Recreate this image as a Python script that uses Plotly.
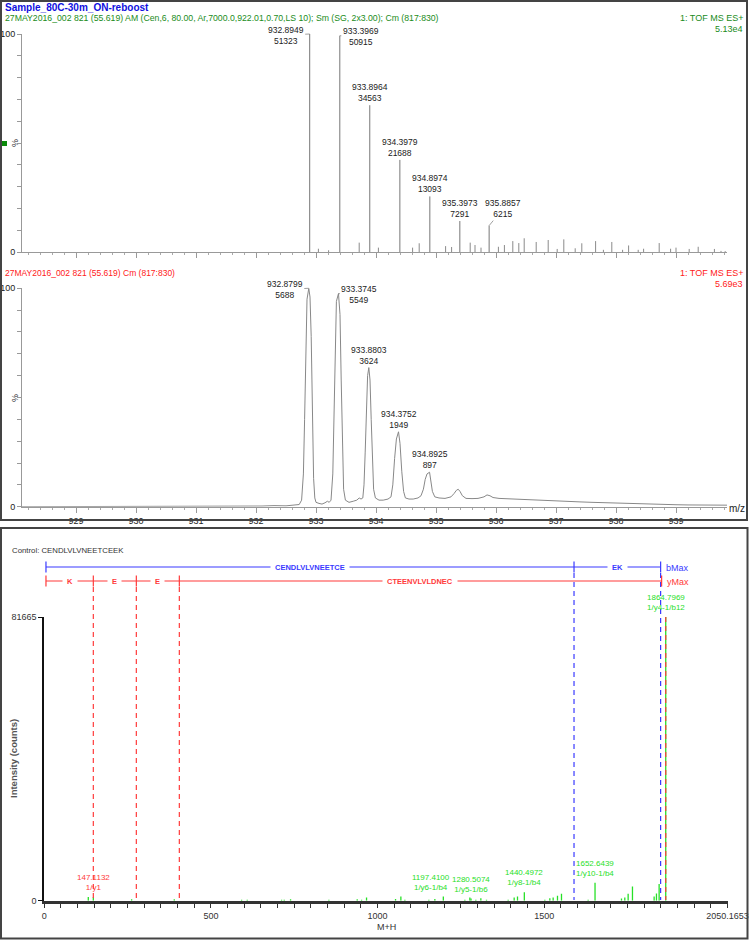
import plotly.graph_objects as go

W, H = 750, 940

# ---- upper spectrum: centroided (Sm/Cm), base peak 5.13e4 ----
top_mz = [932.8949, 933.3969, 933.8964, 934.3979, 934.8974, 935.3973, 935.8857]
top_counts = [51323, 50915, 34563, 21688, 13093, 7291, 6215]
top_max = 51323
small_mz = [933.04, 933.21, 933.72, 934.04, 934.61, 934.72, 935.16, 935.26, 935.57, 935.65,
            935.75, 936.04, 936.14, 936.28, 936.38, 936.47, 936.67, 936.87, 937.02, 937.13,
            937.32, 937.43, 937.66, 937.79, 937.93, 938.11, 938.21, 938.37, 938.46, 938.72,
            938.91, 939.00, 939.22, 939.37, 939.64, 939.75, 939.82]
small_pct = [1.5, 0.8, 4.3, 2.0, 2.0, 4.0, 2.7, 2.3, 4.3, 3.2,
             2.0, 2.4, 3.2, 5.0, 4.1, 6.3, 4.6, 5.5, 1.4, 5.8,
             1.7, 4.0, 5.0, 1.0, 4.6, 1.0, 3.0, 1.0, 1.5, 4.1,
             1.5, 2.0, 1.4, 2.4, 1.4, 0.5, 0.4]

# ---- middle spectrum: continuum (Cm), base peak 5.69e3 ----
prof_mz = [928.10, 932.00, 932.10, 932.30, 932.50, 932.65, 932.72, 932.76, 932.79, 932.81,
           932.83, 932.85, 932.8799, 932.90, 932.92, 932.94, 932.96, 932.98, 933.00, 933.05,
           933.10, 933.15, 933.19, 933.22, 933.25, 933.28, 933.30, 933.32, 933.34, 933.3745,
           933.40, 933.42, 933.44, 933.46, 933.49, 933.55, 933.62, 933.68, 933.72, 933.75,
           933.78, 933.80, 933.82, 933.84, 933.86, 933.8803, 933.90, 933.92, 933.94, 933.96,
           933.99, 934.05, 934.12, 934.20, 934.25, 934.28, 934.31, 934.34, 934.3752, 934.40,
           934.43, 934.46, 934.49, 934.55, 934.62, 934.70, 934.75, 934.79, 934.82, 934.85,
           934.8925, 934.91, 934.94, 934.98, 935.05, 935.15, 935.25, 935.30, 935.34, 935.37,
           935.40, 935.44, 935.50, 935.60, 935.70, 935.80, 935.85, 935.90, 935.95, 936.05,
           936.20, 936.40, 936.60, 936.80, 937.00, 937.20, 937.40, 937.60, 937.80, 938.00,
           938.20, 938.40, 938.60, 938.80, 939.00, 939.20, 939.50, 939.85]
prof_pct = [0, 0, 0.3, 0.5, 0.4, 0.8, 1.0, 3, 15, 40,
            75, 95, 100, 96, 78, 42, 13, 4, 2, 1.5,
            1.2, 1.8, 2.5, 2.0, 3, 15, 40, 75, 94, 97.6,
            88, 58, 24, 8, 3, 2, 2.5, 3, 4, 3.5,
            4, 10, 25, 45, 60, 63.7, 58, 40, 20, 8,
            4, 3, 3, 3.5, 4.5, 10, 22, 31, 34.3, 29,
            16, 7, 4, 3.5, 3.5, 4, 5, 8, 12.5, 15,
            15.8, 12, 7, 4.5, 4, 3.8, 4.5, 6, 7.5, 8,
            7, 5, 3.8, 3.7, 3.8, 4.5, 5.4, 5, 4.2, 3.8,
            3.6, 3.4, 3.0, 2.9, 2.6, 2.4, 2.2, 2.0, 1.8, 1.6,
            1.5, 1.3, 1.1, 1.0, 0.9, 0.8, 0.8, 0.7]
mid_mz = [932.8799, 933.3745, 933.8803, 934.3752, 934.8925]
mid_counts = [5688, 5549, 3624, 1949, 897]
mid_max = 5688

# ---- fragment spectrum (M+H) ----
frag_mz = [132.0, 147.1132, 262.0, 390.0, 592.0, 609.0, 712.0, 720.0, 739.0, 854.0,
           939.0, 952.0, 967.0, 1054.0, 1070.0, 1082.0, 1154.0, 1172.0, 1197.4100, 1262.0,
           1277.0, 1280.5074, 1295.0, 1310.0, 1327.0, 1392.0, 1410.0, 1420.0, 1440.4972, 1502.0,
           1517.0, 1527.0, 1540.0, 1552.0, 1632.0, 1652.6439, 1732.0, 1742.0, 1752.0, 1765.0,
           1830.0, 1837.0, 1845.0, 1864.7969]
frag_counts = [1100, 1000, 400, 400, 300, 300, 300, 300, 400, 300,
               400, 300, 900, 500, 1200, 300, 300, 500, 1200, 300,
               900, 600, 300, 700, 300, 300, 900, 1200, 2400, 300,
               700, 900, 1400, 2000, 300, 5200, 600, 900, 2000, 4100,
               1200, 2100, 4800, 81665]
frag_label_mz = [147.1132, 1197.4100, 1280.5074, 1440.4972, 1652.6439, 1864.7969]
frag_label_ion = ["1/y1", "1/y6-1/b4", "1/y5-1/b6", "1/y8-1/b4", "1/y10-1/b4", "1/y4-1/b12"]
frag_max = 81665
frag_xmax = 2050.1653
b_breaks = [5.0, 1589.6, 1849.5]
b_names = ["CENDLVLVNEETCE", "EK"]
y_breaks = [5.0, 147.1132, 276.1558, 405.1984, 1852.5]
y_names = ["K", "E", "E", "CTEENVLVLDNEC"]
precursor = 1864.7969

SANS = "Liberation Sans, Arial, sans-serif"
NARROW = "Liberation Sans Narrow, Arial Narrow, Liberation Sans, sans-serif"
GREEN_T = "#1a8c1a"
RED_T = "#ff2020"
BLUE_T = "#1010e0"
LAD_BLUE = "#3a3aff"
LAD_RED = "#ff3a3a"
PK_GREEN = "#27e027"

X3_LEFT, X3_RIGHT = 44.3, 727.5


def px(x):
    return x / W


def py(y):
    return 1 - y / H


def sticks(xs, ys):
    sx, sy = [], []
    for a, b in zip(xs, ys):
        sx += [a, a, None]
        sy += [0, b, None]
    return sx, sy


fig = go.Figure()

top_pct = [c / top_max * 100 for c in top_counts]
sx, sy = sticks(small_mz, small_pct)
fig.add_trace(go.Scatter(x=sx, y=sy, mode="lines", line=dict(color="#8a8a8a", width=1),
                         xaxis="x", yaxis="y", hoverinfo="skip"))
sx, sy = sticks(top_mz, top_pct)
fig.add_trace(go.Scatter(x=sx, y=sy, mode="lines", line=dict(color="#777", width=1),
                         xaxis="x", yaxis="y", hoverinfo="skip"))

fig.add_trace(go.Scatter(x=prof_mz, y=prof_pct, mode="lines", line=dict(color="#888", width=1),
                         xaxis="x2", yaxis="y2", hoverinfo="skip"))

sx, sy = sticks(frag_mz, frag_counts)
fig.add_trace(go.Scatter(x=sx, y=sy, mode="lines", line=dict(color=PK_GREEN, width=1.3),
                         xaxis="x3", yaxis="y3", hoverinfo="skip"))

ms_x = dict(range=[928.1, 939.85], showline=True, linecolor="#999", linewidth=1, automargin=False,
            ticks="outside", ticklen=5, tickcolor="#999", tickmode="linear", tick0=929, dtick=1,
            minor=dict(tickmode="linear", tick0=929, dtick=0.2, ticklen=2, tickcolor="#aaa", ticks="outside"),
            showgrid=False, zeroline=False, tickangle=0,
            tickfont=dict(family=SANS, size=9, color="#222"))
ms_y = dict(range=[0, 100], showline=True, linecolor="#999", linewidth=1, automargin=False,
            ticks="outside", ticklen=4, tickcolor="#999",
            tickvals=list(range(0, 101, 10)),
            ticktext=["0"] + [""] * 9 + ["100"],
            showgrid=False, zeroline=False, tickfont=dict(family=SANS, size=9, color="#222"))

frag_ticks = list(range(0, 2050, 50))
fig.update_layout(
    width=W, height=H, autosize=False, margin=dict(l=0, r=0, t=0, b=0, pad=0),
    paper_bgcolor="white", plot_bgcolor="white", showlegend=False,
    xaxis=dict(ms_x, domain=[px(22), px(727)], anchor="y", showticklabels=False),
    yaxis=dict(ms_y, domain=[py(252), py(34)], anchor="x"),
    xaxis2=dict(ms_x, domain=[px(22), px(727)], anchor="y2", showticklabels=True),
    yaxis2=dict(ms_y, domain=[py(506.7), py(288.3)], anchor="x2"),
    xaxis3=dict(domain=[px(X3_LEFT), px(X3_RIGHT)], anchor="y3", range=[0, frag_xmax], automargin=False,
                showline=True, linecolor="#333", linewidth=2.5, ticks="outside", ticklen=5,
                tickcolor="#333", tickvals=frag_ticks + [frag_xmax], tickangle=0,
                ticktext=[str(v) if v % 500 == 0 and v < 2000 else "" for v in frag_ticks] + [f"{frag_xmax:.4f}"],
                showgrid=False, zeroline=False, tickfont=dict(family=NARROW, size=9, color="#333")),
    yaxis3=dict(domain=[py(900.7), py(617)], anchor="x3", range=[0, frag_max], automargin=False,
                showline=True, linecolor="#111", linewidth=2, ticks="outside", ticklen=4,
                tickcolor="#111", tickvals=[0, frag_max], ticktext=["0", str(frag_max)],
                showgrid=False, zeroline=False, tickfont=dict(family=NARROW, size=9, color="#333")),
)

ann = []
shapes = []


def text(x, y, s, color="#222", size=9, family=SANS, anchor="left", **kw):
    ann.append(dict(x=px(x), y=py(y), xref="paper", yref="paper", text=s, showarrow=False,
                    xanchor=anchor, yanchor="middle", font=dict(family=family, size=size, color=color), **kw))


# headers
text(3, 7.5, "<b>Sample_80C-30m_ON-reboost</b>", BLUE_T, 10)
text(3, 18.5, "27MAY2016_002 821 (55.619) AM (Cen,6, 80.00, Ar,7000.0,922.01,0.70,LS 10); Sm (SG, 2x3.00); Cm (817:830)",
     GREEN_T, 8.7)
text(745, 18.5, "1: TOF MS ES+", GREEN_T, 9, anchor="right")
text(745, 29.5, "5.13e4", GREEN_T, 9, anchor="right")
text(3, 273, "27MAY2016_002 821 (55.619) Cm (817:830)", RED_T, 8.5)
text(745, 272.5, "1: TOF MS ES+", RED_T, 9, anchor="right")
text(745, 284, "5.69e3", RED_T, 9, anchor="right")
text(15, 143, "%", "#333", 9, anchor="center", textangle=-90)
text(15, 398, "%", "#333", 9, anchor="center", textangle=-90)
text(737, 508, "m/z", "#222", 10, anchor="center")

# peak labels on the two MS panels (first two hang beside their peak with a short connector)
for xa, ya, mzs, cnts, base in [("x", "y", top_mz, top_counts, top_max),
                                 ("x2", "y2", mid_mz, mid_counts, mid_max)]:
    for i, (m, c) in enumerate(zip(mzs, cnts)):
        a = dict(x=m, y=c / base * 100, xref=xa, yref=ya, text=f"{m:.4f}<br>{c}",
                 showarrow=False, font=dict(family=SANS, size=8.5, color="#222"))
        if i == 0:
            a.update(showarrow=True, ax=-24, ay=1, arrowhead=0, arrowwidth=0.8,
                     arrowcolor="#888", standoff=0)
        elif i == 1:
            a.update(showarrow=True, ax=21, ay=1, arrowhead=0, arrowwidth=0.8,
                     arrowcolor="#888", standoff=0)
        elif xa == "x" and i == 6:
            a.update(showarrow=True, ax=14, ay=-17, arrowhead=0, arrowwidth=0.8,
                     arrowcolor="#888", standoff=0)
        else:
            a.update(xanchor="center", yanchor="bottom", yshift=0)
        ann.append(a)

# fragment labels (nudge a label left when the next one is too close)
px_per_unit = (X3_RIGHT - X3_LEFT) / frag_xmax
cnt_of = dict(zip(frag_mz, frag_counts))
for k, (m, ion) in enumerate(zip(frag_label_mz, frag_label_ion)):
    col = PK_GREEN if "b" in ion else LAD_RED
    shift = 0
    if k + 1 < len(frag_label_mz):
        gap = (frag_label_mz[k + 1] - m) * px_per_unit
        if gap < 40:
            shift = -(40 - gap)
    ann.append(dict(x=m, y=cnt_of[m], xref="x3", yref="y3", text=f"{m:.4f}<br>{ion}",
                    showarrow=False, xanchor="center", yanchor="bottom", yshift=3, xshift=shift,
                    font=dict(family=NARROW, size=8, color=col)))

text(10, 550.5, "Control: CENDLVLVNEETCEEK", "#333", 7.8, NARROW)
text(386, 926.5, "M+H", "#333", 9, NARROW, anchor="center")
text(13, 759, "<b>Intensity (counts)</b>", "#555", 9.5, NARROW, anchor="center", textangle=-90)


# sequence ladders
def ladder(breaks, names, y, color, end_label, dash_top):
    shapes.append(dict(type="line", xref="x3", yref="paper", x0=breaks[0], x1=breaks[-1],
                       y0=py(y), y1=py(y), line=dict(color=color, width=1.2)))
    for b in breaks:
        shapes.append(dict(type="line", xref="x3", yref="paper", x0=b, x1=b,
                           y0=py(y - 5.5), y1=py(y + 5.5), line=dict(color=color, width=1.2)))
    for b in dash_top:
        shapes.append(dict(type="line", xref="x3", yref="paper", x0=b, x1=b,
                           y0=py(y + 6), y1=py(900), line=dict(color=color, width=1.2, dash="5px,4px")))
    for a, b, n in zip(breaks[:-1], breaks[1:], names):
        ann.append(dict(x=(a + b) / 2, y=py(y), xref="x3", yref="paper", text=f"<b>{n}</b>",
                        showarrow=False, xanchor="center", yanchor="middle", bgcolor="white",
                        borderpad=4, font=dict(family=NARROW, size=7.5, color=color)))
    ann.append(dict(x=breaks[-1], y=py(y + 1), xref="x3", yref="paper", text=end_label,
                    showarrow=False, xanchor="left", yanchor="middle", xshift=3,
                    font=dict(family=NARROW, size=9, color=color)))


ladder(b_breaks, b_names, 567, LAD_BLUE, "bMax", b_breaks[1:])
ladder(y_breaks, y_names, 581, LAD_RED, "yMax", y_breaks[1:-1])
shapes.append(dict(type="line", xref="x3", yref="paper", x0=precursor, x1=precursor,
                   y0=py(617), y1=py(900), line=dict(color=LAD_RED, width=1.2, dash="5px,4px")))

# panel frames and marker
shapes.append(dict(type="rect", xref="paper", yref="paper", x0=px(1), x1=px(747), y0=py(520), y1=py(1),
                   line=dict(color="#444", width=2)))
shapes.append(dict(type="rect", xref="paper", yref="paper", x0=px(1), x1=px(747.5), y0=py(938.5), y1=py(528),
                   line=dict(color="#444", width=2)))
shapes.append(dict(type="rect", xref="paper", yref="paper", x0=px(2), x1=px(7), y0=py(146), y1=py(141),
                   fillcolor="#0a8a0a", line=dict(width=0)))

fig.update_layout(annotations=ann, shapes=shapes)

fig.write_html("out.html",
               config={"responsive": False, "displayModeBar": False},
               post_script="document.body.style.margin='0';document.body.style.overflow='hidden';")
